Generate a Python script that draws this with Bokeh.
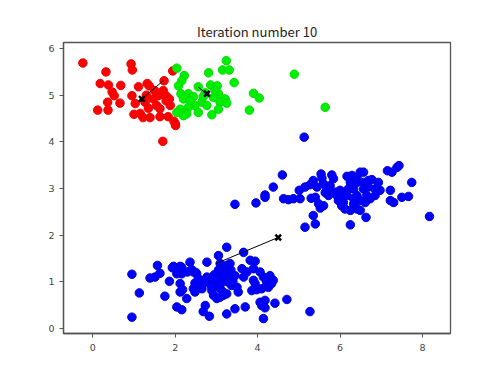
from bokeh.plotting import figure
from bokeh.models import FixedTicker, Range1d
from bokeh.embed import file_html
from bokeh.resources import INLINE

# ---- data ----
red_x = [-0.24, 0.93, 0.96, 0.32, 0.18, 0.38, 0.68, 0.47, 0.52, 0.36, 0.66, 0.12, 0.37,
         0.95, 1.03, 1.11, 1.32, 1.37, 1.73, 1.94, 1.71, 1.59, 1.78, 1.78, 1.47, 1.27,
         1.55, 1.88, 1.35, 1.15, 1.00, 1.22, 1.39, 1.63, 1.83, 2.00, 1.97, 1.70, 1.63,
         1.30, 1.50, 1.86, 2.01]
red_y = [5.69, 5.67, 5.54, 5.50, 5.25, 5.22, 5.21, 5.07, 4.99, 4.85, 4.83, 4.68, 4.68,
         4.99, 4.82, 5.18, 5.25, 5.20, 5.31, 5.52, 5.10, 4.99, 4.99, 4.88, 4.92, 4.85,
         4.78, 4.78, 4.72, 4.61, 4.59, 4.52, 4.52, 4.54, 4.54, 4.39, 4.44, 4.01, 4.71,
         5.00, 5.10, 4.92, 4.35]

green_x = [2.04, 2.22, 2.16, 2.08, 3.24, 3.15, 3.31, 2.81, 3.43, 2.86, 3.02, 2.56, 2.14,
           2.32, 2.20, 2.44, 3.05, 3.21, 2.93, 3.09, 3.25, 2.65, 2.77, 2.48, 2.32, 2.12,
           2.04, 2.56, 2.89, 3.05, 2.28, 2.20, 4.89, 3.90, 4.04, 3.80, 5.64, 2.73, 2.97,
           2.36, 2.68]
green_y = [5.58, 5.42, 5.31, 5.20, 5.74, 5.54, 5.54, 5.48, 5.27, 5.22, 5.20, 5.18, 5.03,
           5.03, 4.92, 4.97, 5.03, 4.92, 4.95, 4.85, 4.83, 4.85, 4.78, 4.78, 4.74, 4.70,
           4.63, 4.63, 4.58, 4.70, 4.60, 4.56, 5.45, 5.04, 4.94, 4.68, 4.74, 5.05, 5.10,
           4.88, 4.97]

blue_x = [4.60, 3.96, 4.18, 4.18, 4.38, 4.63, 4.75, 4.87, 5.01, 5.03, 5.15, 5.27, 5.35,
          5.30, 5.40, 5.54, 5.56, 5.44, 5.60, 5.68, 5.76, 5.84, 5.80, 5.64, 5.72, 5.88,
          5.92, 6.00, 5.96, 6.08, 6.04, 6.12, 6.25, 6.33, 6.41, 6.49, 5.48, 5.60, 5.52,
          5.35, 5.40, 5.15, 6.25, 6.63, 6.17, 6.29, 6.41, 6.49, 6.57, 6.25, 6.41, 6.57,
          6.69, 6.77, 6.33, 6.57, 6.69, 6.85, 6.93, 6.65, 6.73, 6.85, 6.97, 6.61, 6.41,
          6.49, 6.33, 7.15, 7.38, 7.43, 7.26, 7.74, 7.22, 7.22, 7.30, 7.50, 7.66, 6.08,
          6.20, 6.17, 5.13, 3.45, 8.17,
          0.95, 1.13, 0.95, 1.39, 1.51, 1.63, 1.57, 1.86, 1.75, 1.96, 2.12, 2.16, 2.04,
          2.36, 2.30, 2.44, 2.52, 2.12, 2.12, 2.18, 2.28, 2.04, 2.16, 2.44, 2.56, 2.68,
          2.48, 2.65, 2.77, 2.77, 2.85, 2.93, 2.73, 2.68, 2.83, 2.89, 2.93, 3.05, 3.25,
          3.09, 3.17, 3.25, 3.33, 3.13, 3.25, 3.37, 3.45, 3.29, 3.01, 3.09, 3.17, 3.01,
          3.09, 3.17, 3.25, 3.25, 3.45, 3.37, 3.50, 3.53, 3.66, 3.62, 3.74, 3.66, 3.82,
          3.94, 3.90, 4.06, 3.90, 3.94, 3.86, 3.98, 4.10, 3.70, 4.06, 4.18, 4.10, 4.18,
          4.14, 4.42, 4.71, 4.14, 4.22, 4.30, 4.38, 4.26, 4.34, 5.27, 3.15, 3.20, 3.35,
          3.05, 3.30, 2.95, 3.40, 3.10, 1.93, 2.04, 2.16, 2.40, 2.50, 2.48, 2.60, 2.56,
          2.73, 2.90, 3.00, 2.88]
blue_y = [3.29, 2.69, 2.86, 2.81, 3.03, 2.78, 2.76, 2.78, 2.96, 2.78, 3.03, 3.08, 3.17,
          2.79, 2.81, 3.31, 3.22, 3.03, 3.10, 2.99, 3.06, 3.21, 3.29, 2.91, 2.85, 2.92,
          2.85, 2.96, 2.74, 2.70, 2.63, 2.56, 2.53, 2.67, 2.56, 2.53, 2.67, 2.63, 2.58,
          2.42, 2.24, 2.17, 2.22, 2.38, 3.26, 3.28, 3.24, 3.35, 3.35, 3.13, 3.13, 3.13,
          3.17, 3.19, 2.99, 2.99, 3.03, 2.99, 3.13, 2.85, 2.78, 2.85, 2.96, 2.70, 2.85,
          2.74, 2.78, 3.38, 3.45, 3.49, 3.35, 3.13, 2.96, 2.74, 2.70, 2.81, 2.83, 2.88,
          2.99, 2.85, 4.10, 2.66, 2.40,
          1.16, 0.76, 0.24, 1.08, 1.10, 1.18, 1.35, 1.01, 0.69, 1.33, 1.33, 1.17, 1.17,
          1.42, 1.21, 1.21, 1.17, 0.96, 0.78, 0.83, 0.64, 0.46, 0.40, 0.85, 0.96, 0.96,
          0.78, 0.85, 1.42, 1.10, 0.99, 1.03, 0.49, 0.36, 0.26, 0.81, 0.71, 1.56, 1.74,
          1.39, 1.28, 1.35, 1.39, 1.17, 1.10, 1.17, 1.13, 0.99, 0.96, 0.85, 0.78, 0.64,
          0.67, 0.71, 0.74, 0.31, 0.42, 0.92, 0.88, 0.78, 1.63, 1.28, 1.21, 1.10, 1.46,
          1.44, 1.28, 1.21, 1.03, 0.96, 0.81, 0.83, 0.85, 0.46, 0.56, 0.60, 0.49, 0.44,
          0.21, 0.54, 0.62, 1.10, 0.99, 1.13, 1.03, 0.88, 0.96, 0.36, 1.05, 1.20, 1.25,
          1.25, 1.05, 1.15, 1.00, 0.95, 1.30, 1.24, 1.31, 1.26, 1.20, 0.97, 1.01, 1.07,
          1.01, 0.99, 1.07, 0.90]

# centroid paths: previous -> current (iteration 10)
red_path_x = [1.71, 1.19]
red_path_y = [5.31, 4.92]
green_path_x = [2.56, 2.77]
green_path_y = [5.17, 5.03]
blue_path_x = [2.99, 4.50]
blue_path_y = [1.39, 1.95]

x_ticks = [0, 2, 4, 6, 8]
y_ticks = [0, 1, 2, 3, 4, 5, 6]

p = figure(width=492, height=367, output_backend="svg", toolbar_location=None,
           x_range=Range1d(-0.71, 8.68), y_range=Range1d(-0.11, 6.13),
           min_border_left=63, min_border_right=42, min_border_top=42,
           min_border_bottom=34, title="Iteration number 10")

p.title.align = "center"
p.title.text_font = "Noto Sans CJK JP"
p.title.text_font_size = "13px"
p.title.text_font_style = "normal"
p.title.text_color = "#222222"
p.title.standoff = 4

p.grid.visible = False
p.outline_line_color = "#555555"
p.outline_line_width = 1.3
p.background_fill_color = "white"

for ax in (p.xaxis[0], p.yaxis[0]):
    ax.axis_line_color = "#555555"
    ax.axis_line_width = 1.3
    ax.major_tick_line_color = "#555555"
    ax.major_tick_out = 4
    ax.major_tick_in = 0
    ax.minor_tick_line_color = None
    ax.major_label_text_font = "DejaVu Sans"
    ax.major_label_text_font_size = "9.5px"
    ax.major_label_text_color = "#444444"
p.xaxis[0].ticker = FixedTicker(ticks=x_ticks)
p.yaxis[0].ticker = FixedTicker(ticks=y_ticks)
p.xaxis[0].major_label_standoff = 6
p.yaxis[0].major_label_standoff = 5

p.scatter(red_x, red_y, size=8.5, fill_color="#ff0000", line_color="#ee0000")
p.scatter(green_x, green_y, size=8.5, fill_color="#00ee00", line_color="#00dd00")
p.scatter(blue_x, blue_y, size=8.5, fill_color="#0000ff", line_color="#0000dd")

for px, py in ((red_path_x, red_path_y), (green_path_x, green_path_y),
               (blue_path_x, blue_path_y)):
    p.line(px, py, line_color="black", line_width=1)
    p.scatter(px[-1:], py[-1:], marker="x", size=8, line_color="black", line_width=2.5)

open("out.html", "w").write(file_html(p, INLINE))
